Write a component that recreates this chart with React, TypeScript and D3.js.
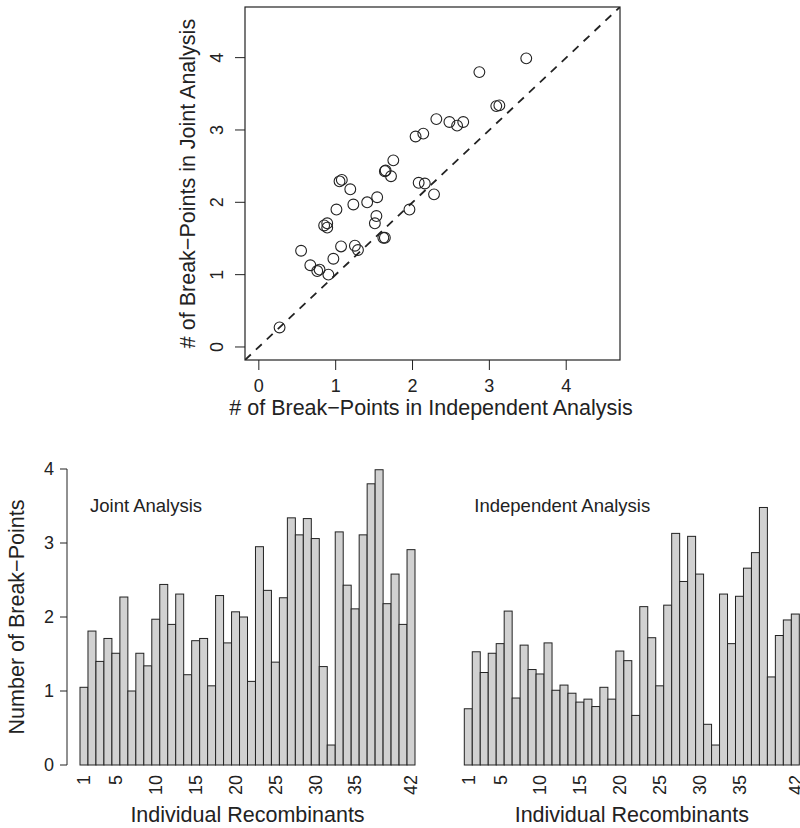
import React from "react";
import * as d3 from "d3";

// break-points per recombinant (1..42)
const recombinants = d3.range(1, 43);
const jointValues = [1.05, 1.81, 1.40, 1.71, 1.51, 2.27, 1.00, 1.51, 1.34, 1.97, 2.44, 1.90, 2.31, 1.22, 1.68, 1.71, 1.07, 2.29, 1.65, 2.07, 2.00, 1.13, 2.95, 2.36, 1.39, 2.26, 3.34, 3.11, 3.33, 3.06, 1.33, 0.27, 3.15, 2.43, 2.11, 3.11, 3.80, 3.99, 2.18, 2.58, 1.90, 2.91];
const independentValues = [0.76, 1.53, 1.25, 1.51, 1.64, 2.08, 0.905, 1.62, 1.29, 1.23, 1.65, 1.01, 1.08, 0.97, 0.85, 0.89, 0.79, 1.05, 0.89, 1.54, 1.41, 0.67, 2.14, 1.72, 1.07, 2.16, 3.13, 2.48, 3.09, 2.58, 0.55, 0.27, 2.31, 1.64, 2.28, 2.66, 2.87, 3.48, 1.19, 1.75, 1.96, 2.04];
const scatterTicks = [0, 1, 2, 3, 4];
const barYTicks = [0, 1, 2, 3, 4];
const barXLabels = [1, 5, 10, 15, 20, 25, 30, 35, 42];

const font = "'Liberation Sans', Arial, Helvetica, sans-serif";
const ink = "#222";

function Scatter() {
  const x = d3.scaleLinear().domain([-0.18, 4.70]).range([245, 620]);
  const y = d3.scaleLinear().domain([-0.18, 4.70]).range([360, 7]);
  return (
    <g>
      <defs>
        <clipPath id="box">
          <rect x={245} y={7} width={375} height={353} />
        </clipPath>
      </defs>
      <rect x={245} y={7} width={375} height={353} fill="none" stroke={ink} strokeWidth={1.2} />
      <line x1={x(-0.18)} y1={y(-0.18)} x2={x(4.7)} y2={y(4.7)} stroke={ink} strokeWidth={1.8}
        strokeDasharray="8,7" clipPath="url(#box)" />
      {independentValues.map((v, i) => (
        <circle key={i} cx={x(v)} cy={y(jointValues[i])} r={5.4} fill="none" stroke={ink} strokeWidth={1.1} />
      ))}
      {scatterTicks.map((t) => (
        <g key={"x" + t}>
          <line x1={x(t)} x2={x(t)} y1={360} y2={370} stroke={ink} />
          <text x={x(t)} y={392} fontSize={18} textAnchor="middle" fill={ink}>{t}</text>
        </g>
      ))}
      {scatterTicks.map((t) => (
        <g key={"y" + t}>
          <line x1={235} x2={245} y1={y(t)} y2={y(t)} stroke={ink} />
          <text transform={`translate(223,${y(t)}) rotate(-90)`} fontSize={18} textAnchor="middle" fill={ink}>{t}</text>
        </g>
      ))}
      <text x={431} y={415} fontSize={21.5} textAnchor="middle" fill={ink}>
        # of Break−Points in Independent Analysis
      </text>
      <text transform={`translate(195,${(7 + 360) / 2}) rotate(-90)`} fontSize={21.5} textAnchor="middle" fill={ink}>
        # of Break−Points in Joint Analysis
      </text>
    </g>
  );
}

function Bars({ values, x0, x1, label, showAxis }: { values: number[]; x0: number; x1: number; label: string; showAxis: boolean }) {
  const x = d3.scaleBand<number>().domain(recombinants).range([x0, x1]).padding(0);
  const y = d3.scaleLinear().domain([0, 4]).range([765, 469]);
  return (
    <g>
      {values.map((v, i) => (
        <rect key={i} x={x(recombinants[i])} y={y(v)} width={x.bandwidth()} height={y(0) - y(v)}
          fill="#d1d1d1" stroke={ink} strokeWidth={1} />
      ))}
      {barXLabels.map((n) => (
        <text key={n} transform={`translate(${(x(n) as number) + x.bandwidth() / 2},775) rotate(-90)`}
          fontSize={18} textAnchor="end" dy="0.35em" fill={ink}>{n}</text>
      ))}
      <text x={x0 + 10} y={512} fontSize={18.5} fill={ink}>{label}</text>
      <text x={(x0 + x1) / 2} y={822} fontSize={21.5} textAnchor="middle" fill={ink}>Individual Recombinants</text>
      {showAxis && (
        <g>
          <line x1={67} x2={67} y1={y(0)} y2={y(4)} stroke={ink} />
          {barYTicks.map((t) => (
            <g key={t}>
              <line x1={60} x2={67} y1={y(t)} y2={y(t)} stroke={ink} />
              <text x={54} y={y(t)} dy="0.35em" fontSize={18} textAnchor="end" fill={ink}>{t}</text>
            </g>
          ))}
          <text transform={`translate(24,617) rotate(-90)`} fontSize={21.5} textAnchor="middle" fill={ink}>
            Number of Break−Points
          </text>
        </g>
      )}
    </g>
  );
}

export default function App() {
  return (
    <svg width={800} height={828} style={{ position: "absolute", left: 0, top: 0, background: "#fff" }} fontFamily={font}>
      <Scatter />
      <Bars values={jointValues} x0={80} x1={415} label="Joint Analysis" showAxis={true} />
      <Bars values={independentValues} x0={464.3} x1={799.3} label="Independent Analysis" showAxis={false} />
    </svg>
  );
}
